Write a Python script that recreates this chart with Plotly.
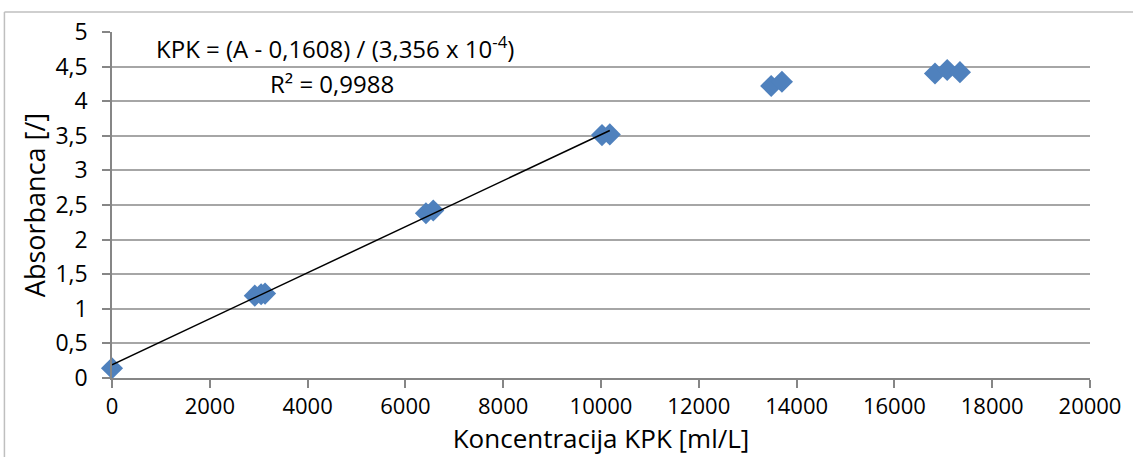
import numpy as np
import plotly.graph_objects as go

# Data
konc = [0, 2920, 3050, 3130, 6420, 6570, 10020, 10180, 13480, 13700, 16830, 17080, 17340]
absorb = [0.14, 1.19, 1.21, 1.22, 2.38, 2.42, 3.51, 3.52, 4.22, 4.28, 4.40, 4.45, 4.42]
lin_limit = 10200

x_ticks = list(range(0, 20001, 2000))
y_ticks = [0, 0.5, 1, 1.5, 2, 2.5, 3, 3.5, 4, 4.5, 5]
y_tick_text = ["0", "0,5", "1", "1,5", "2", "2,5", "3", "3,5", "4", "4,5", "5"]

FONT = "Open Sans"

xa = np.array(konc, dtype=float)
ya = np.array(absorb, dtype=float)
m = xa <= lin_limit
k, n = np.polyfit(xa[m], ya[m], 1)
xl = np.array([xa[m].min(), xa[m].max()])
yl = k * xl + n

fig = go.Figure()
fig.add_trace(go.Scatter(x=konc, y=absorb, mode="markers", cliponaxis=False,
                         marker=dict(symbol="diamond", size=17, color="#4F81BD", line=dict(width=0)),
                         showlegend=False))
fig.add_trace(go.Scatter(x=xl, y=yl, mode="lines", cliponaxis=False,
                         line=dict(color="black", width=1.5), showlegend=False, hoverinfo="skip"))

fig.update_layout(
    width=1133, height=457,
    margin=dict(l=112, r=43, t=32, b=79),
    paper_bgcolor="white", plot_bgcolor="white",
    font=dict(family=FONT, color="black"),
    xaxis=dict(range=[0, 20000], tickvals=x_ticks, ticktext=[str(v) for v in x_ticks],
               showgrid=False, showline=True, linecolor="#868686", linewidth=1.5,
               ticks="outside", ticklen=8, tickcolor="#868686", tickwidth=1.5,
               tickfont=dict(size=22, family=FONT), zeroline=False, ticklabelstandoff=0,
               title=dict(text="Koncentracija KPK [ml/L]", font=dict(size=26, family=FONT), standoff=3)),
    yaxis=dict(range=[0, 5], tickvals=y_ticks, ticktext=y_tick_text,
               showgrid=True, gridcolor="#A6A6A6", gridwidth=1.5,
               showline=True, linecolor="#868686", linewidth=1.5,
               ticks="outside", ticklen=8, tickcolor="#868686", tickwidth=1.5,
               tickfont=dict(size=23, family=FONT), zeroline=False, ticklabelstandoff=10,
               title=dict(text="Absorbanca [/]", font=dict(size=27, family=FONT), standoff=2)),
)

fig.add_annotation(xref="x", yref="y", x=4560, y=4.77,
                   text="KPK = (A - 0,1608) / (3,356 x 10<sup>-4</sup>)",
                   showarrow=False, font=dict(size=24, family=FONT))
fig.add_annotation(xref="x", yref="y", x=4500, y=4.26,
                   text="R² = 0,9988", showarrow=False, font=dict(size=24, family=FONT))

# outer chart border (left and top visible)
fig.add_shape(type="line", xref="paper", yref="paper", x0=-0.110, x1=-0.110, y0=-0.4, y1=1.058,
              line=dict(color="#BFBFBF", width=1.5))
fig.add_shape(type="line", xref="paper", yref="paper", x0=-0.110, x1=1.1, y0=1.058, y1=1.058,
              line=dict(color="#BFBFBF", width=1.5))

fig.write_html("out.html")
